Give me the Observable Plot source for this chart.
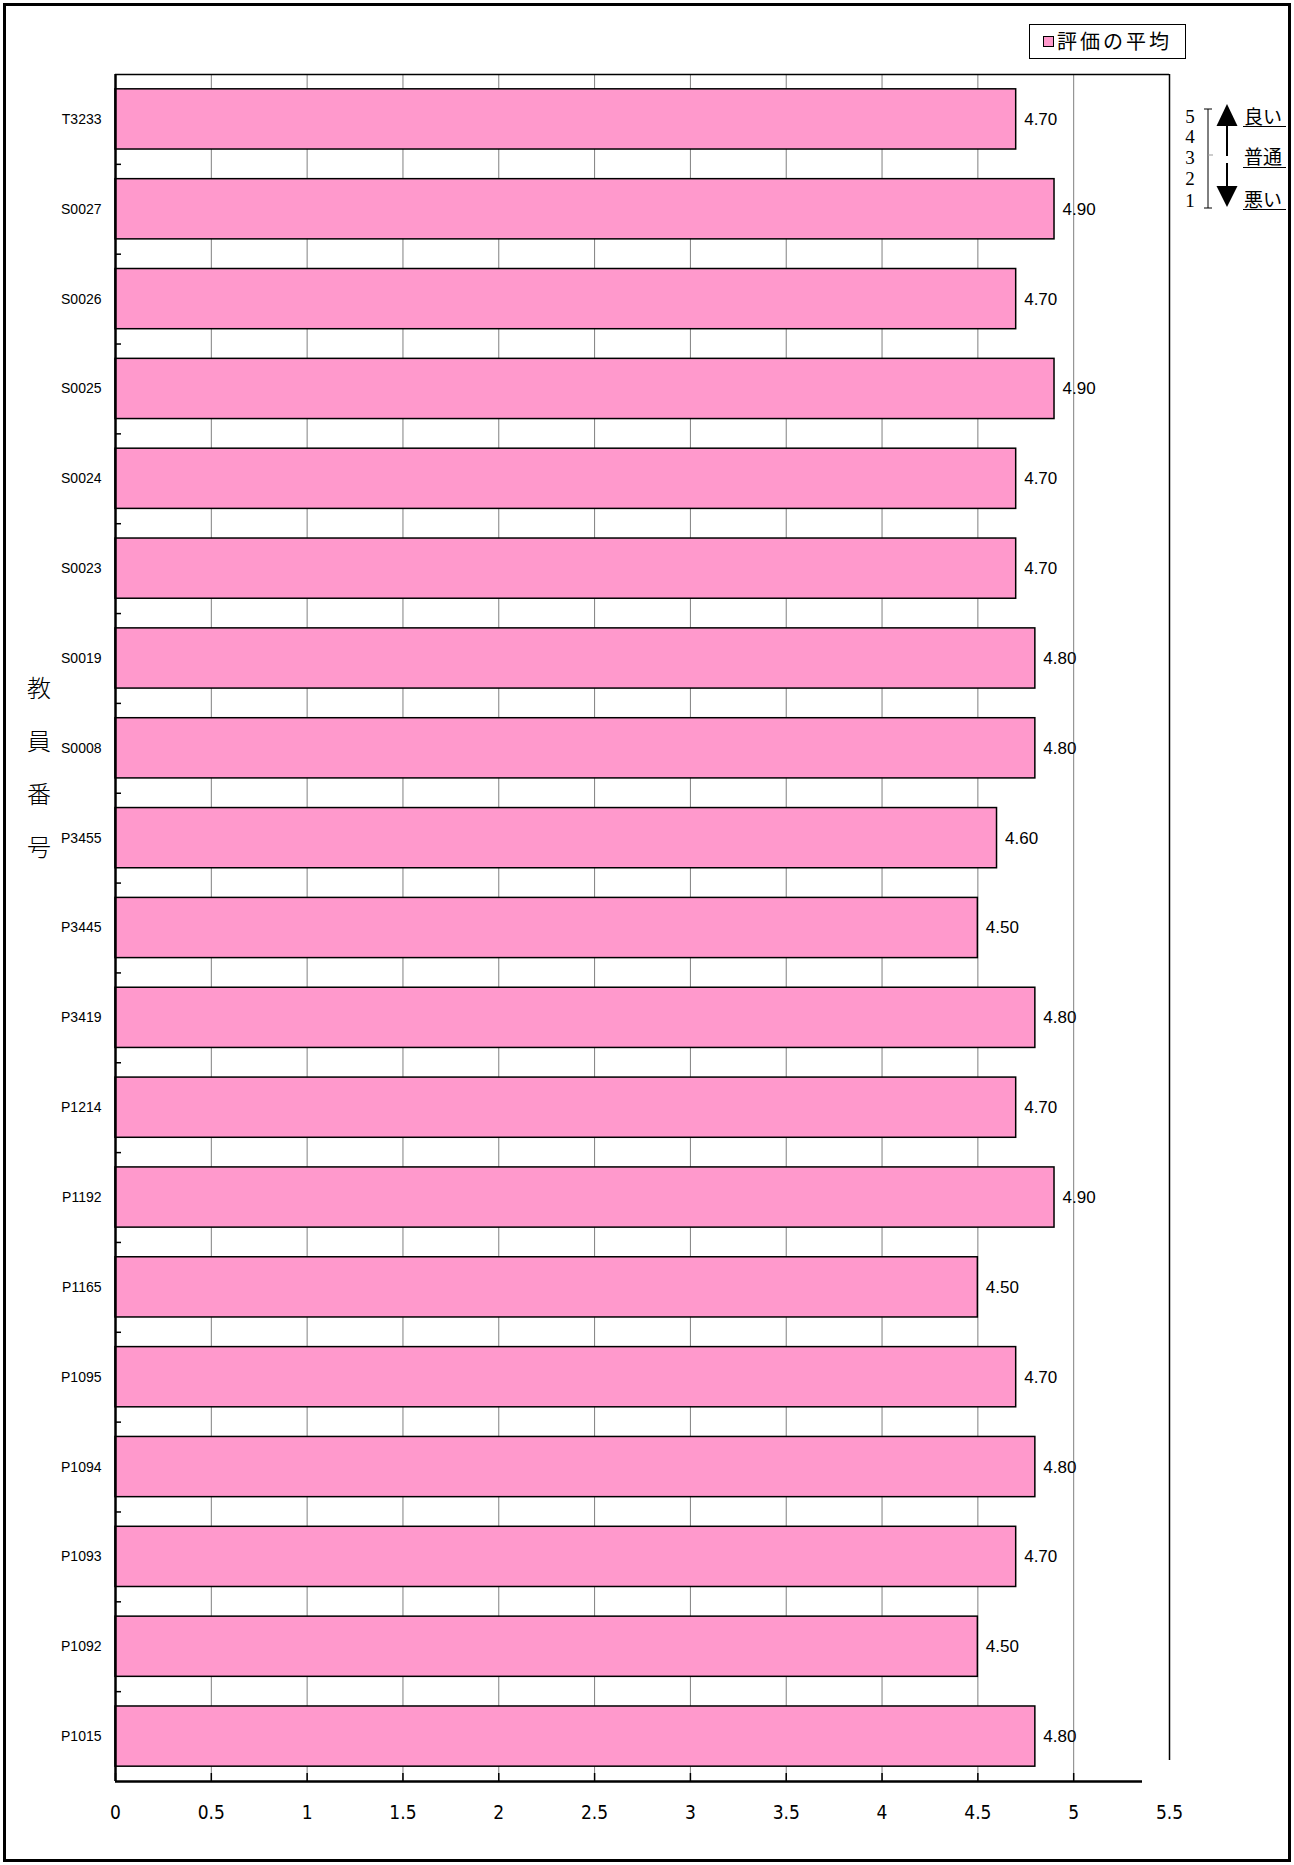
<!DOCTYPE html>
<html>
<head>
<meta charset="utf-8">
<script src="https://cdn.jsdelivr.net/npm/d3@7"></script>
<script src="https://cdn.jsdelivr.net/npm/@observablehq/plot@0.6"></script>
<style>
  html, body { margin: 0; padding: 0; background: #fff; }
  #page { position: relative; width: 1294px; height: 1865px; overflow: hidden; background: #fff; }
  #chart { position: absolute; left: 0; top: 0; }
  #border { position: absolute; left: 3px; top: 3px; width: 1282px; height: 1853px; border: 3px solid #000; pointer-events: none; }
  #legend { position: absolute; left: 1029px; top: 24px; width: 157px; height: 35px; box-sizing: border-box; border: 1.5px solid #000; background: #fff;
            font-family: "Noto Sans CJK JP", sans-serif; font-size: 20px; letter-spacing: 3px; line-height: 32px; }
  #legend .sw { position: absolute; left: 12.5px; top: 10.5px; width: 9px; height: 9px; border: 1.5px solid #000; background: #FF99CC; }
  #legend .tx { position: absolute; left: 27px; top: 0; }
  #ytitle { position: absolute; left: 24px; top: 660px; width: 30px; text-align: center; font-family: "Noto Sans CJK JP", sans-serif; font-weight: 300;
            font-size: 24px; line-height: 53px; color: #000; }
  #scale { position: absolute; left: 1176px; top: 95px; }
</style>
</head>
<body>
<div id="page">
  <div id="chart"></div>
  <div id="legend"><div class="sw"></div><div class="tx">評価の平均</div></div>
  <div id="ytitle"></div>
  <svg id="scale" width="116" height="125" viewBox="1176 95 116 125">
    <g font-family="Liberation Serif, DejaVu Serif, serif" font-size="19" text-anchor="middle" fill="#000">
      <text x="1190" y="123">5</text>
      <text x="1190" y="143">4</text>
      <text x="1190" y="164">3</text>
      <text x="1190" y="185">2</text>
      <text x="1190" y="207">1</text>
    </g>
    <g stroke="#000" stroke-width="1" fill="none">
      <line x1="1208" y1="109" x2="1208" y2="208"/>
      <line x1="1204" y1="109" x2="1212" y2="109"/>
      <line x1="1204" y1="208" x2="1212" y2="208"/>
      <line x1="1208" y1="155" x2="1213" y2="155" stroke="#999"/>
      <line x1="1227" y1="124" x2="1227" y2="156" stroke-width="2"/>
      <line x1="1227" y1="163" x2="1227" y2="190" stroke-width="2"/>
    </g>
    <path d="M1227,104 L1237.5,126 L1216.5,126 Z" fill="#000"/>
    <path d="M1227,207 L1237.5,186 L1216.5,186 Z" fill="#000"/>
    <g font-family="Noto Sans CJK JP, sans-serif" font-size="19" fill="#000">
      <text x="1244" y="124">良い</text>
      <text x="1244" y="164">普通</text>
      <text x="1244" y="207">悪い</text>
    </g>
    <g stroke="#000" stroke-width="1">
      <line x1="1243" y1="126.5" x2="1286" y2="126.5"/>
      <line x1="1243" y1="167.5" x2="1286" y2="167.5"/>
      <line x1="1243" y1="209.5" x2="1286" y2="209.5"/>
    </g>
  </svg>
  <div id="border"></div>
</div>
<script>
// ---- data (top to bottom) ----
const teachers = ["T3233","S0027","S0026","S0025","S0024","S0023","S0019","S0008","P3455","P3445",
                  "P3419","P1214","P1192","P1165","P1095","P1094","P1093","P1092","P1015"];
const averages = [4.70,4.90,4.70,4.90,4.70,4.70,4.80,4.80,4.60,4.50,
                  4.80,4.70,4.90,4.50,4.70,4.80,4.70,4.50,4.80];
const xTicks = [0,0.5,1,1.5,2,2.5,3,3.5,4,4.5,5,5.5];
const gridTicks = [0.5,1,1.5,2,2.5,3,3.5,4,4.5,5];
const yTitle = "教員番号";
const legendLabel = "評価の平均";

const data = teachers.map((t, i) => ({teacher: t, value: averages[i], i}));
const n = teachers.length;
const pad = 0.165;

document.getElementById("ytitle").innerHTML = Array.from(yTitle).join("<br>");
document.querySelector("#legend .tx").textContent = legendLabel;

const chart = Plot.plot({
  width: 1294,
  height: 1865,
  marginLeft: 115,
  marginRight: 125,
  marginTop: 74,
  marginBottom: 84,
  style: {fontFamily: "'Liberation Sans', Arial, sans-serif", background: "transparent", overflow: "visible"},
  x: {domain: [0, 5.5], axis: null},
  y: {domain: [n, 0], axis: null},
  marks: [
    // gridlines
    Plot.ruleX(gridTicks, {stroke: "#808080", strokeWidth: 1}),
    // bars
    Plot.rect(data, {x1: 0, x2: "value", y1: d => d.i + pad, y2: d => d.i + 1 - pad,
                     fill: "#FF99CC", stroke: "#000", strokeWidth: 1.5}),
    // value labels
    Plot.text(data, {x: "value", y: d => d.i + 0.5, text: d => d.value.toFixed(2),
                     textAnchor: "start", dx: 8, fontSize: 17, fill: "#000"}),
    // frame lines
    Plot.ruleY([0], {stroke: "#000", strokeWidth: 1.5}),
    Plot.ruleX([5.5], {stroke: "#000", strokeWidth: 1.5, insetBottom: 21}),
    Plot.ruleY([n], {stroke: "#000", strokeWidth: 2.5, insetRight: 27}),
    Plot.ruleX([0], {stroke: "#000", strokeWidth: 2.5}),
    // y category labels
    Plot.axisY(d3.range(n).map(i => i + 0.5), {anchor: "left", tickSize: 0, tickPadding: 14,
               tickFormat: v => teachers[Math.floor(v)], fontSize: 14, label: null}),
    // y boundary ticks (inward)
    Plot.axisY(d3.range(1, n), {anchor: "left", tickSize: 6, dx: 6, tickFormat: () => "", label: null, strokeWidth: 1.5}),
    // x ticks (inward)
    Plot.axisX(xTicks.slice(0, -1), {anchor: "bottom", tickSize: 8, dy: -8, tickFormat: () => "", label: null, strokeWidth: 1.5}),
    // x labels
    Plot.axisX(xTicks, {anchor: "bottom", tickSize: 0, tickPadding: 24, fontSize: 19,
               fontFamily: "'Liberation Sans Narrow', 'DejaVu Sans Condensed', sans-serif",
               tickFormat: d => String(d), label: null})
  ]
});
document.getElementById("chart").appendChild(chart);
</script>
</body>
</html>
